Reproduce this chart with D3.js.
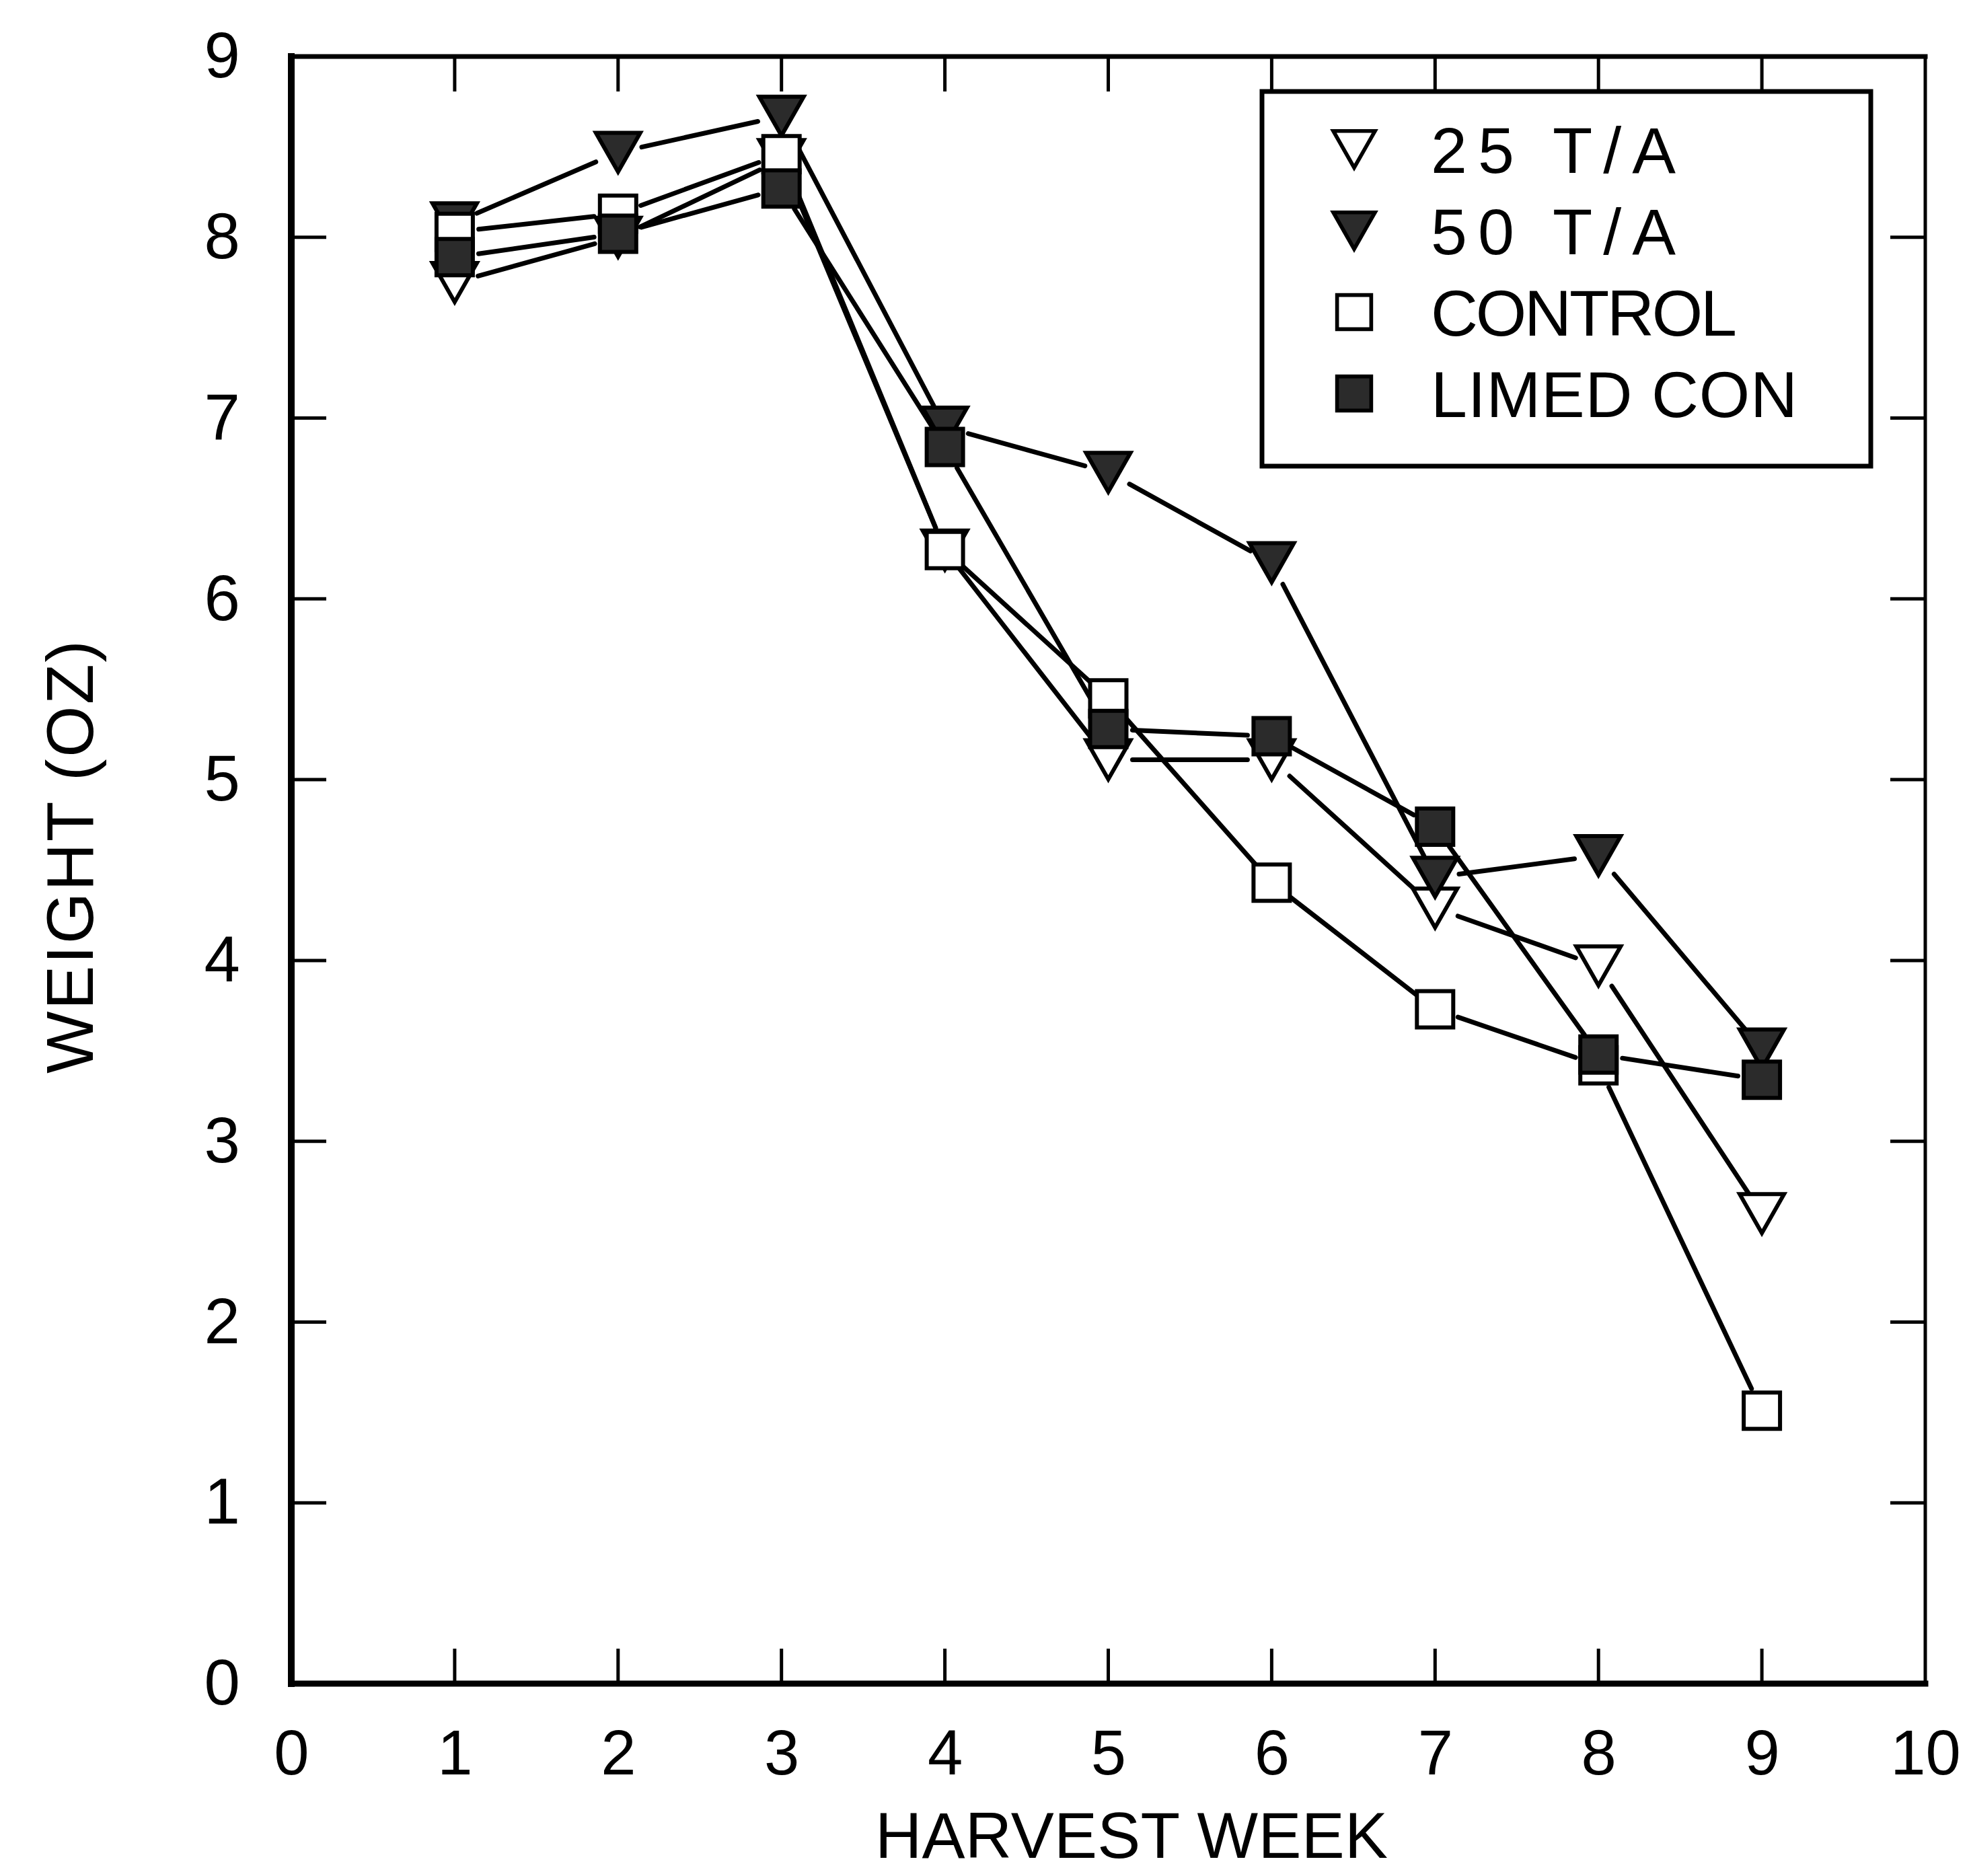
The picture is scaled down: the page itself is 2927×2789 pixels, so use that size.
<!DOCTYPE html>
<html>
<head>
<meta charset="utf-8">
<script src="https://cdn.jsdelivr.net/npm/d3@7/dist/d3.min.js"></script>
<style>
  html, body { margin: 0; padding: 0; background: #fff; }
  svg text { font-family: "Liberation Sans", Arial, sans-serif; fill: #000; }
</style>
</head>
<body>
<div id="chart"></div>
<script>
//==========================================================================================
// Data
//==========================================================================================
var weeks      = [1, 2, 3, 4, 5, 6, 7, 8, 9];
var ta25       = [7.75, 8.00, 8.43, 6.27, 5.11, 5.11, 4.29, 3.97, 2.60];
var ta50       = [8.08, 8.47, 8.67, 6.95, 6.70, 6.20, 4.46, 4.58, 3.51];
var control    = [8.03, 8.13, 8.46, 6.27, 5.45, 4.43, 3.73, 3.42, 1.51];
var limedCon   = [7.89, 8.02, 8.27, 6.84, 5.28, 5.24, 4.74, 3.48, 3.34];

var xTicks     = [0, 1, 2, 3, 4, 5, 6, 7, 8, 9, 10];
var yTicks     = [0, 1, 2, 3, 4, 5, 6, 7, 8, 9];
var seriesNames = ["25 T/A", "50 T/A", "CONTROL", "LIMED CON"];

(function(){
    "use strict";

    var W = 2927, H = 2789;
    var plot = { left: 433, right: 2862, top: 84, bottom: 2503 };
    var ink = "#000";
    var stipple = "#2b2b2b";

    var series = [
        { name: seriesNames[0], values: ta25,     shape: "tri", filled: false },
        { name: seriesNames[1], values: ta50,     shape: "tri", filled: true  },
        { name: seriesNames[2], values: control,  shape: "sq",  filled: false },
        { name: seriesNames[3], values: limedCon, shape: "sq",  filled: true  }
    ];

    var x = d3.scaleLinear().domain([0, 10]).range([plot.left, plot.right]);
    var y = d3.scaleLinear().domain([0, 9]).range([plot.bottom, plot.top]);

    var svg = d3.select("#chart").append("svg")
        .attr("width", W)
        .attr("height", H)
        .attr("viewBox", "0 0 " + W + " " + H);

    //------------------------------------------------------------------------------------------
    // Axes (labels from d3 axes, inward ticks on all four sides)
    //------------------------------------------------------------------------------------------
    var inner = [1, 2, 3, 4, 5, 6, 7, 8, 9];
    var innerY = [1, 2, 3, 4, 5, 6, 7, 8];

    var gx = svg.append("g")
        .attr("transform", "translate(0," + plot.bottom + ")")
        .call(d3.axisBottom(x).tickValues(xTicks).tickSizeInner(0).tickSizeOuter(0).tickPadding(68));
    gx.select(".domain").remove();
    gx.selectAll("text").attr("font-size", 94).style("font-family", "Liberation Sans");

    var gy = svg.append("g")
        .attr("transform", "translate(" + plot.left + ",0)")
        .call(d3.axisLeft(y).tickValues(yTicks).tickSizeInner(0).tickSizeOuter(0).tickPadding(76));
    gy.select(".domain").remove();
    gy.selectAll("text").attr("font-size", 96).style("font-family", "Liberation Sans");

    var tickLen = 52;
    var ticks = svg.append("g").attr("stroke", ink).attr("stroke-width", 5);
    ticks.selectAll(".tb").data(inner).enter().append("line")
        .attr("x1", function(d) { return x(d); }).attr("x2", function(d) { return x(d); })
        .attr("y1", plot.bottom).attr("y2", plot.bottom - tickLen);
    ticks.selectAll(".tt").data(inner).enter().append("line")
        .attr("x1", function(d) { return x(d); }).attr("x2", function(d) { return x(d); })
        .attr("y1", plot.top).attr("y2", plot.top + tickLen);
    ticks.selectAll(".tl").data(innerY).enter().append("line")
        .attr("y1", function(d) { return y(d); }).attr("y2", function(d) { return y(d); })
        .attr("x1", plot.left).attr("x2", plot.left + tickLen);
    ticks.selectAll(".tr").data(innerY).enter().append("line")
        .attr("y1", function(d) { return y(d); }).attr("y2", function(d) { return y(d); })
        .attr("x1", plot.right).attr("x2", plot.right - tickLen);

    // frame, left and bottom a bit heavier like the plotter output
    var frame = svg.append("g").attr("stroke", ink).attr("stroke-linecap", "square");
    frame.append("line").attr("x1", plot.left).attr("x2", plot.left)
        .attr("y1", plot.top).attr("y2", plot.bottom).attr("stroke-width", 10);
    frame.append("line").attr("x1", plot.left).attr("x2", plot.right)
        .attr("y1", plot.bottom).attr("y2", plot.bottom).attr("stroke-width", 9);
    frame.append("line").attr("x1", plot.left).attr("x2", plot.right)
        .attr("y1", plot.top).attr("y2", plot.top).attr("stroke-width", 7);
    frame.append("line").attr("x1", plot.right).attr("x2", plot.right)
        .attr("y1", plot.top).attr("y2", plot.bottom).attr("stroke-width", 5);

    //------------------------------------------------------------------------------------------
    // Axis titles
    //------------------------------------------------------------------------------------------
    svg.append("text")
        .attr("x", 1682).attr("y", 2762)
        .attr("text-anchor", "middle")
        .attr("font-size", 96)
        .attr("textLength", 762).attr("lengthAdjust", "spacing")
        .text("HARVEST WEEK");

    svg.append("text")
        .attr("transform", "translate(138,1274) rotate(-90)")
        .attr("text-anchor", "middle")
        .attr("font-size", 98)
        .attr("textLength", 644).attr("lengthAdjust", "spacing")
        .text("WEIGHT (OZ)");

    //------------------------------------------------------------------------------------------
    // Marker shapes
    //------------------------------------------------------------------------------------------
    function markerPath(shape) {
        if (shape === "tri") {
            var w = 66, h = 58;
            return "M" + (-w / 2) + "," + (-h / 2) + "L" + (w / 2) + "," + (-h / 2) + "L0," + (h / 2) + "Z";
        }
        var s = 54;
        return "M" + (-s / 2) + "," + (-s / 2) + "h" + s + "v" + s + "h" + (-s) + "Z";
    }

    //------------------------------------------------------------------------------------------
    // Series lines, broken short of each marker
    //------------------------------------------------------------------------------------------
    var gap = 36;
    var lines = svg.append("g").attr("stroke", ink).attr("stroke-width", 7).attr("stroke-linecap", "round");
    series.forEach(function(s) {
        var segs = [];
        for (var i = 0; i < weeks.length - 1; i++) {
            var x0 = x(weeks[i]), y0 = y(s.values[i]);
            var x1 = x(weeks[i + 1]), y1 = y(s.values[i + 1]);
            var dx = x1 - x0, dy = y1 - y0;
            var len = Math.sqrt(dx * dx + dy * dy);
            var ux = dx / len, uy = dy / len;
            segs.push([x0 + ux * gap, y0 + uy * gap, x1 - ux * gap, y1 - uy * gap]);
        }
        lines.selectAll(null).data(segs).enter().append("line")
            .attr("x1", function(d) { return d[0]; })
            .attr("y1", function(d) { return d[1]; })
            .attr("x2", function(d) { return d[2]; })
            .attr("y2", function(d) { return d[3]; });
    });

    var marks = svg.append("g");
    series.forEach(function(s) {
        marks.selectAll(null).data(weeks).enter().append("path")
            .attr("d", markerPath(s.shape))
            .attr("transform", function(d, i) { return "translate(" + x(d) + "," + y(s.values[i]) + ")"; })
            .attr("fill", s.filled ? stipple : "#fff")
            .attr("stroke", ink)
            .attr("stroke-width", 6)
            .attr("stroke-linejoin", "miter");
    });

    //------------------------------------------------------------------------------------------
    // Legend
    //------------------------------------------------------------------------------------------
    var legend = svg.append("g");
    legend.append("rect")
        .attr("x", 1876).attr("y", 136)
        .attr("width", 905).attr("height", 557)
        .attr("fill", "none").attr("stroke", ink).attr("stroke-width", 7);

    var legendWidths = [364, 364, 455, 545];
    var item = legend.selectAll(".item").data(series).enter().append("g")
        .attr("transform", function(d, i) { return "translate(0," + (222 + i * 121) + ")"; });
    item.append("path")
        .attr("d", function(d) { return markerPath(d.shape); })
        .attr("transform", "translate(2013,0) scale(0.94)")
        .attr("fill", function(d) { return d.filled ? stipple : "#fff"; })
        .attr("stroke", ink).attr("stroke-width", 6);
    item.append("text")
        .attr("x", 2127).attr("y", 35)
        .attr("font-size", 97)
        .attr("textLength", function(d, i) { return legendWidths[i]; })
        .attr("lengthAdjust", "spacing")
        .text(function(d) { return d.name; });

})();
</script>
</body>
</html>
